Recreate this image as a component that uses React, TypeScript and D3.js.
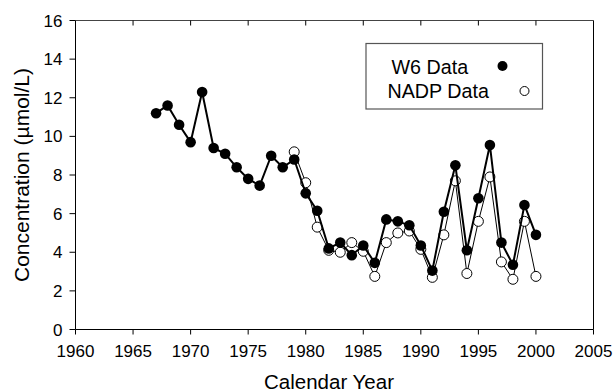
import React from "react";
import * as d3 from "d3";

// W6 watershed record, 1967–2000 (µmol/L)
const w6Years = [
  1967, 1968, 1969, 1970, 1971, 1972, 1973, 1974, 1975, 1976, 1977, 1978,
  1979, 1980, 1981, 1982, 1983, 1984, 1985, 1986, 1987, 1988, 1989, 1990,
  1991, 1992, 1993, 1994, 1995, 1996, 1997, 1998, 1999, 2000,
];
const w6Values = [
  11.2, 11.6, 10.6, 9.7, 12.3, 9.4, 9.1, 8.4, 7.8, 7.45, 9.0, 8.4,
  8.8, 7.05, 6.15, 4.2, 4.5, 3.85, 4.35, 3.45, 5.7, 5.6, 5.4, 4.35,
  3.05, 6.1, 8.5, 4.1, 6.8, 9.55, 4.5, 3.35, 6.45, 4.9,
];

// NADP record, 1979–2000 (µmol/L)
const nadpYears = [
  1979, 1980, 1981, 1982, 1983, 1984, 1985, 1986, 1987, 1988, 1989, 1990,
  1991, 1992, 1993, 1994, 1995, 1996, 1997, 1998, 1999, 2000,
];
const nadpValues = [
  9.2, 7.6, 5.3, 4.1, 4.0, 4.5, 4.05, 2.75, 4.5, 5.0, 5.1, 4.15,
  2.7, 4.9, 7.7, 2.9, 5.6, 7.9, 3.5, 2.6, 5.6, 2.75,
];

const xTicks = [1960, 1965, 1970, 1975, 1980, 1985, 1990, 1995, 2000, 2005];
const yTicks = [0, 2, 4, 6, 8, 10, 12, 14, 16];

const W = 613;
const H = 392;
const left = 75.5;
const right = 593.5;
const top = 20.5;
const bottom = 329.5;
const FONT = "Liberation Sans, Arial, Helvetica, sans-serif";

export default function App() {
  const x = d3.scaleLinear().domain([1960, 2005]).range([left, right]);
  const y = d3.scaleLinear().domain([0, 16]).range([bottom, top]);

  const w6 = w6Years.map((yr, i) => ({ yr, v: w6Values[i] }));
  const nadp = nadpYears.map((yr, i) => ({ yr, v: nadpValues[i] }));

  const line = d3
    .line<{ yr: number; v: number }>()
    .x((d) => x(d.yr))
    .y((d) => y(d.v));

  return (
    <svg
      width={W}
      height={H}
      style={{ position: "absolute", left: 0, top: 0, background: "#fff" }}
      fontFamily={FONT}
    >
      <rect x={0} y={0} width={W} height={H} fill="#fff" />

      {/* frame */}
      <line x1={left} x2={right} y1={top} y2={top} stroke="#444" strokeWidth={1} />
      <line x1={right} x2={right} y1={top} y2={bottom} stroke="#000" strokeWidth={1} />
      <line x1={left} x2={right} y1={bottom} y2={bottom} stroke="#000" strokeWidth={1} />
      <line x1={left} x2={left} y1={top} y2={bottom} stroke="#000" strokeWidth={1} />

      {/* x ticks: outward at bottom, inward at top */}
      {xTicks.map((t) => (
        <g key={"x" + t}>
          <line x1={x(t)} x2={x(t)} y1={bottom} y2={bottom + 5} stroke="#000" />
          {t !== 1960 && t !== 2005 && (
            <line x1={x(t)} x2={x(t)} y1={top} y2={top + 5} stroke="#000" />
          )}
          <text
            x={x(t)}
            y={bottom + 27.5}
            textAnchor="middle"
            fontSize={17}
            fill="#000"
          >
            {t}
          </text>
        </g>
      ))}

      {/* y ticks */}
      {yTicks.map((t) => (
        <g key={"y" + t}>
          <line x1={left - 6} x2={left} y1={y(t)} y2={y(t)} stroke="#000" />
          <text
            x={left - 13}
            y={y(t) + 6}
            textAnchor="end"
            fontSize={17}
            fill="#000"
          >
            {t}
          </text>
        </g>
      ))}

      {/* axis titles */}
      <text x={329} y={389} textAnchor="middle" fontSize={20.5} fill="#000">
        Calendar Year
      </text>
      <text
        transform={`translate(29, 175) rotate(-90)`}
        textAnchor="middle"
        fontSize={21}
        fill="#000"
      >
        Concentration (µmol/L)
      </text>

      {/* NADP series */}
      <path d={line(nadp) ?? ""} fill="none" stroke="#000" strokeWidth={1} />
      {nadp.map((d) => (
        <circle
          key={"n" + d.yr}
          cx={x(d.yr)}
          cy={y(d.v)}
          r={5}
          fill="#fff"
          stroke="#000"
          strokeWidth={1}
        />
      ))}

      {/* W6 series */}
      <path d={line(w6) ?? ""} fill="none" stroke="#000" strokeWidth={2} />
      {w6.map((d) => (
        <circle key={"w" + d.yr} cx={x(d.yr)} cy={y(d.v)} r={5.3} fill="#000" />
      ))}

      {/* legend */}
      <rect
        x={366}
        y={43.5}
        width={176.5}
        height={65.5}
        fill="#fff"
        stroke="#555"
        strokeWidth={1.2}
      />
      <text x={391.5} y={73.5} fontSize={19.7} fill="#000">
        W6 Data
      </text>
      <circle cx={502.5} cy={66} r={5} fill="#000" />
      <text x={387.5} y={98} fontSize={19.7} fill="#000">
        NADP Data
      </text>
      <circle cx={524.5} cy={91} r={4.5} fill="#fff" stroke="#000" strokeWidth={1} />
    </svg>
  );
}
